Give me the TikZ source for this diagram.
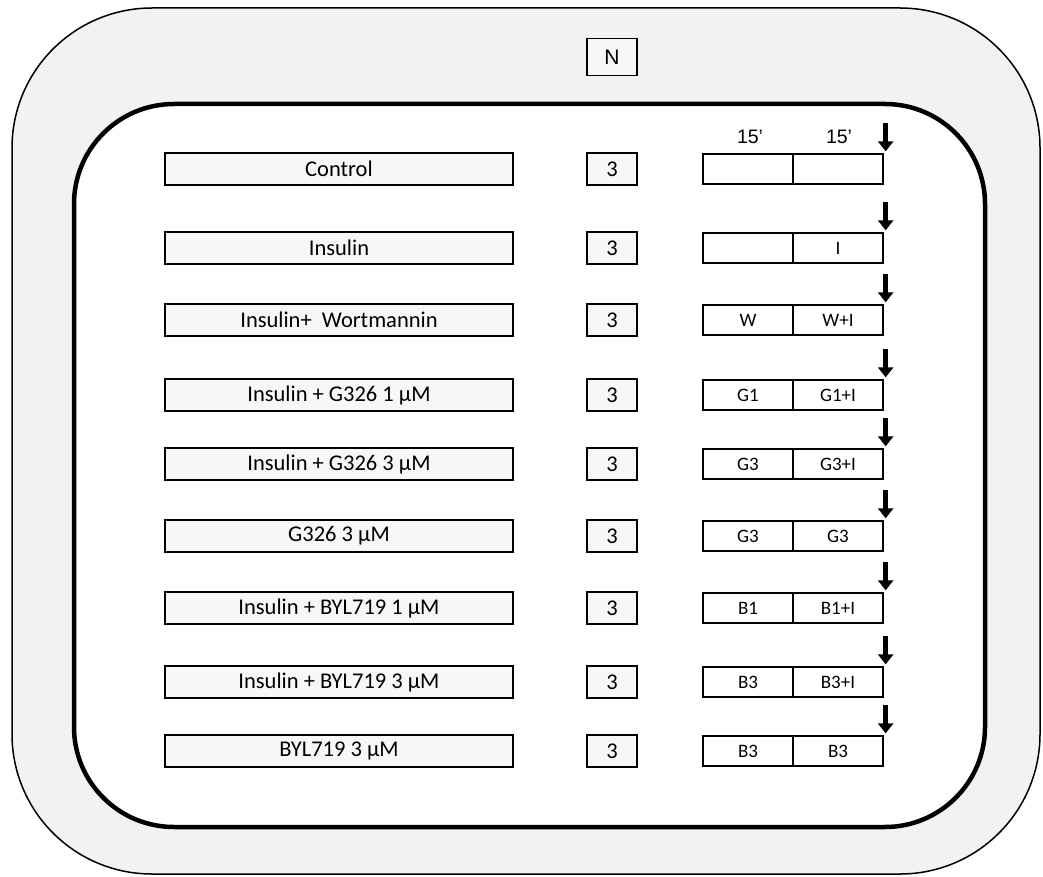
\documentclass[tikz,border=0pt]{standalone}
\usepackage{fontspec}
\setmainfont{Carlito}
\newfontfamily\arialfont{Liberation Sans}
\usetikzlibrary{arrows.meta}

\begin{document}
\begin{tikzpicture}[x=1pt,y=-1pt,
    treat/.style={draw,fill=black!3,line width=1.3pt,minimum width=348pt,minimum height=32pt,inner sep=0pt,font=\fontsize{22.5}{26}\selectfont},
    count/.style={draw,fill=black!3,line width=1.3pt,minimum width=50pt,minimum height=32pt,inner sep=0pt,font=\fontsize{22.5}{26}\selectfont},
    slot/.style={draw,fill=white,line width=1.3pt,minimum width=90pt,minimum height=30pt,inner sep=0pt,font=\fontsize{19}{22}\selectfont},
    dose/.style={line width=5pt,-{Triangle[width=15pt,length=10pt]}}
]
\useasboundingbox (0,0) rectangle (1043,877);
\draw[fill=black!5,line width=1.5pt,rounded corners=140pt] (12,8) rectangle (1040,874);
\draw[fill=white,line width=4.5pt,rounded corners=100pt] (74,104) rectangle (985,827);

\node[draw,fill=black!3,line width=1.5pt,minimum width=50pt,minimum height=37pt,inner sep=0pt,font=\arialfont\fontsize{21}{24}\selectfont] (N) at (612,57) {N};
\node[font=\arialfont\fontsize{19.5}{22}\selectfont] (T1) at (750,137) {15’};
\node[font=\arialfont\fontsize{19.5}{22}\selectfont] (T2) at (839,137) {15’};

\node[treat] (L1) at (339,169) {Control};
\node[treat] (L2) at (339,248) {Insulin};
\node[treat] (L3) at (339,320) {Insulin+\ \ Wortmannin};
\node[treat] (L4) at (339,395) {Insulin + G326 1 µM};
\node[treat] (L5) at (339,464) {Insulin + G326 3 µM};
\node[treat] (L6) at (339,536) {G326 3 µM};
\node[treat] (L7) at (339,608) {Insulin + BYL719 1 µM};
\node[treat] (L8) at (339,682) {Insulin + BYL719 3 µM};
\node[treat] (L9) at (339,751) {BYL719 3 µM};

\node[count] (C1) at (612,169) {3};
\node[count] (C2) at (612,248) {3};
\node[count] (C3) at (612,320) {3};
\node[count] (C4) at (612,395) {3};
\node[count] (C5) at (612,464) {3};
\node[count] (C6) at (612,536) {3};
\node[count] (C7) at (612,608) {3};
\node[count] (C8) at (612,682) {3};
\node[count] (C9) at (612,751) {3};

\node[slot] (P1) at (748,169) {};
\node[slot] (P2) at (748,248) {};
\node[slot] (P3) at (748,320) {W};
\node[slot] (P4) at (748,395) {G1};
\node[slot] (P5) at (748,464) {G3};
\node[slot] (P6) at (748,536) {G3};
\node[slot] (P7) at (748,608) {B1};
\node[slot] (P8) at (748,682) {B3};
\node[slot] (P9) at (748,751) {B3};

\node[slot] (S1) at (838,169) {};
\node[slot] (S2) at (838,248) {I};
\node[slot] (S3) at (838,320) {W+I};
\node[slot] (S4) at (838,395) {G1+I};
\node[slot] (S5) at (838,464) {G3+I};
\node[slot] (S6) at (838,536) {G3};
\node[slot] (S7) at (838,608) {B1+I};
\node[slot] (S8) at (838,682) {B3+I};
\node[slot] (S9) at (838,751) {B3};

\draw[dose] ([xshift=2pt,yshift=30pt]S1.north east) -- ([xshift=2pt,yshift=2pt]S1.north east);
\draw[dose] ([xshift=2pt,yshift=30pt]S2.north east) -- ([xshift=2pt,yshift=2pt]S2.north east);
\draw[dose] ([xshift=2pt,yshift=30pt]S3.north east) -- ([xshift=2pt,yshift=2pt]S3.north east);
\draw[dose] ([xshift=2pt,yshift=30pt]S4.north east) -- ([xshift=2pt,yshift=2pt]S4.north east);
\draw[dose] ([xshift=2pt,yshift=30pt]S5.north east) -- ([xshift=2pt,yshift=2pt]S5.north east);
\draw[dose] ([xshift=2pt,yshift=30pt]S6.north east) -- ([xshift=2pt,yshift=2pt]S6.north east);
\draw[dose] ([xshift=2pt,yshift=30pt]S7.north east) -- ([xshift=2pt,yshift=2pt]S7.north east);
\draw[dose] ([xshift=2pt,yshift=30pt]S8.north east) -- ([xshift=2pt,yshift=2pt]S8.north east);
\draw[dose] ([xshift=2pt,yshift=30pt]S9.north east) -- ([xshift=2pt,yshift=2pt]S9.north east);
\end{tikzpicture}
\end{document}
